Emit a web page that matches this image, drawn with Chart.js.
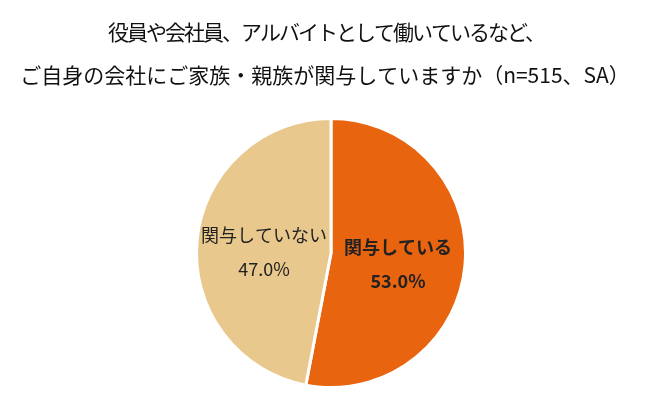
<!DOCTYPE html>
<html>
<head>
<meta charset="utf-8">
<script src="https://cdn.jsdelivr.net/npm/chart.js@4"></script>
<style>
  html, body { margin: 0; padding: 0; background: #fff; }
  #wrap { width: 650px; height: 420px; }
</style>
</head>
<body>
<div id="wrap"><canvas id="pieChart"></canvas></div>
<script>
const titleLines = ['役員や会社員、アルバイトとして働いているなど、', 'ご自身の会社にご家族・親族が関与していますか（n=515、SA）'];
const labels = ['関与している', '関与していない'];
const values = [53.0, 47.0];
const colors = ['#E8640F', '#E8C88C'];

const FONT = '"Noto Sans CJK JP", "Noto Sans", sans-serif';

// two line title, drawn by hand so each line can get its own spacing
const titleText = {
	id: 'titleText',
	afterDraw(chart) {
		const ctx = chart.ctx;
		ctx.save();
		ctx.textAlign = 'center';
		ctx.textBaseline = 'middle';
		ctx.fillStyle = '#111';
		ctx.font = '21px ' + FONT;
		ctx.letterSpacing = '-2px';
		ctx.fillText(titleLines[0], 326, 32);
		ctx.letterSpacing = '0px';
		ctx.fillText(titleLines[1], 325, 75);
		ctx.restore();
	}
};

// label + percentage inside each slice
const sliceLabels = {
	id: 'sliceLabels',
	afterDatasetsDraw(chart) {
		const ctx = chart.ctx;
		const meta = chart.getDatasetMeta(0);
		ctx.save();
		ctx.textAlign = 'center';
		ctx.textBaseline = 'middle';
		ctx.fillStyle = '#222';
		meta.data.forEach((arc, i) => {
			const p = arc.tooltipPosition();
			const weight = i === 0 ? 'bold' : 'normal';
			ctx.font = weight + ' 18px ' + FONT;
			ctx.fillText(labels[i], p.x, p.y - 12);
			ctx.fillText(values[i].toFixed(1) + '%', p.x, p.y + 22);
		});
		ctx.restore();
	}
};

new Chart(document.getElementById('pieChart'), {
	type: 'pie',
	data: {
		labels: labels,
		datasets: [{
			data: values,
			backgroundColor: colors,
			borderColor: '#fff',
			borderWidth: 3
		}]
	},
	options: {
		responsive: true,
		maintainAspectRatio: false,
		animation: false,
		layout: { padding: { left: 12, top: 117, bottom: 31 } },
		plugins: {
			legend: { display: false },
			tooltip: { enabled: false },
			title: { display: false }
		}
	},
	plugins: [sliceLabels, titleText]
});
</script>
</body>
</html>
